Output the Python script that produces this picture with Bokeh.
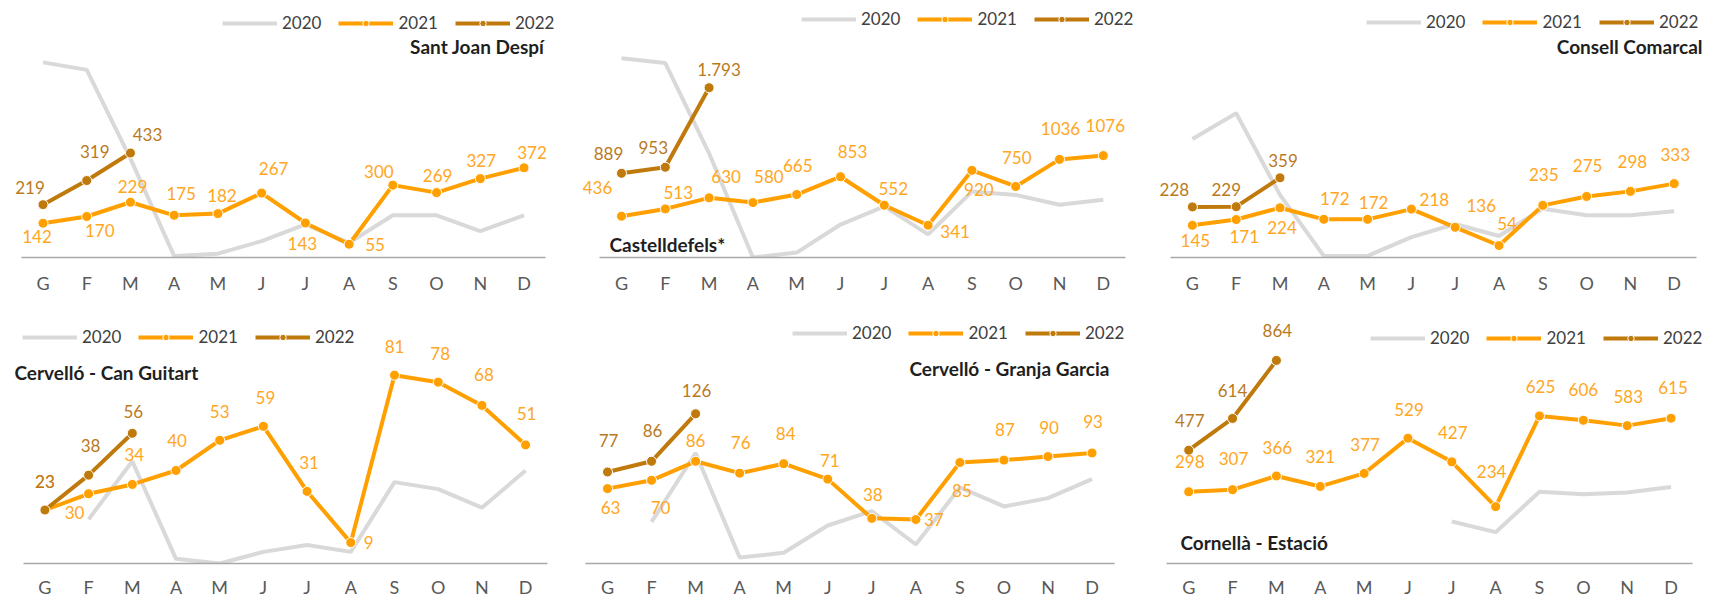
from bokeh.plotting import figure
from bokeh.layouts import column, row
from bokeh.models import Range1d, FixedTicker, Legend, LegendItem, Label, ColumnDataSource
from bokeh.core.properties import value
from bokeh.embed import file_html
from bokeh.resources import INLINE

# ---------------- data ----------------
months = ["G", "F", "M", "A", "M", "J", "J", "A", "S", "O", "N", "D"]
years = ["2020", "2021", "2022"]

titles = ["Sant Joan Despí", "Castelldefels*", "Consell Comarcal",
          "Cervelló - Can Guitart", "Cervelló - Granja Garcia", "Cornellà - Estació"]

sjd_2020 = [809, 778, 410, 6, 16, 68, 137, 61, 175, 175, 109, 175]
sjd_2021 = [142, 170, 229, 175, 182, 267, 143, 55, 300, 269, 327, 372]
sjd_2022 = [219, 319, 433]

cast_2020 = [2105, 2053, 1100, 0, 52, 348, 540, 244, 696, 661, 557, 609]
cast_2021 = [436, 513, 630, 580, 665, 853, 552, 341, 920, 750, 1036, 1076]
cast_2022 = [889, 953, 1793]

cc_2020 = [534, 650, 282, 7, 7, 92, 151, 97, 220, 190, 190, 208]
cc_2021 = [145, 171, 224, 172, 172, 218, 136, 54, 235, 275, 298, 333]
cc_2022 = [228, 229, 359]

cg_2020 = [None, 19, 44, 2, 0, 5, 8, 5, 35, 32, 24, 40]
cg_2021 = [23, 30, 34, 40, 53, 59, 31, 9, 81, 78, 68, 51]
cg_2022 = [23, 38, 56]

gg_2020 = [None, 35, 93, 5, 9, 32, 44, 16, 64, 48, 55, 71]
gg_2021 = [63, 70, 86, 76, 84, 71, 38, 37, 85, 87, 90, 93]
gg_2022 = [77, 86, 126]

ce_2020 = [None, None, None, None, None, None, 170, 124, 298, 287, 295, 319]
ce_2021 = [298, 307, 366, 321, 377, 529, 427, 234, 625, 606, 583, 615]
ce_2022 = [477, 614, 864]

series_2020 = [sjd_2020, cast_2020, cc_2020, cg_2020, gg_2020, ce_2020]
series_2021 = [sjd_2021, cast_2021, cc_2021, cg_2021, gg_2021, ce_2021]
series_2022 = [sjd_2022, cast_2022, cc_2022, cg_2022, gg_2022, ce_2022]

# ---------------- layout / styling (positions, not data) ----------------
off_2021 = [
    [(-6, 13), (13, 14), (2, -16), (7, -22), (4, -18), (12, -25), (-3, 20), (26, 0), (-14, -14), (1, -17), (1, -18), (8, -15)],
    [(-24, -29), (13, -16), (17, -21), (16, -26), (1, -29), (12, -25), (9, -17), (27, 6), (7, 19), (1, -29), (1, -31), (2, -30)],
    [(3, 15), (8, 17), (2, 20), (11, -21), (6, -17), (23, -10), (26, -22), (8, -22), (1, -31), (1, -31), (2, -30), (1, -29)],
    [(0, -29), (-14, 19), (2, -30), (1, -30), (0, -29), (2, -29), (2, -29), (18, 0), (0, -29), (2, -29), (2, -31), (1, -31)],
    [(3, 19), (9, 27), (0, -21), (1, -31), (2, -30), (2, -19), (1, -24), (18, 0), (2, 28), (1, -31), (1, -29), (1, -31)],
    [(1, -30), (1, -31), (1, -29), (0, -30), (1, -29), (1, -29), (1, -29), (-4, -35), (1, -29), (0, -31), (1, -29), (2, -31)],
]
off_2022 = [
    [(-13, -17), (8, -29), (17, -19)],
    [(-13, -20), (-12, -20), (10, -18)],
    [(-18, -17), (-10, -17), (3, -17)],
    [(0, -29), (2, -30), (1, -22)],
    [(1, -31), (1, -31), (1, -23)],
    [(1, -30), (0, -28), (1, -30)],
]

col_w = [570, 572, 563]
row_h = [296, 304]
row_frame_h = [260, 270]
row_standoff = [14, 12]
fig_left = [0, 570, 1142, 0, 570, 1142]
first_x = [42.5, 621, 1191.9, 44.4, 607, 1188.2]
step_x = [43.73, 43.8, 43.8, 43.7, 44.05, 43.85]
y_start = [0, 0, 0, 0, 0, -11]
px_per_unit = [0.244, 0.0958, 0.2245, 2.351, 1.2017, 0.2347]
legend_xy = [(222, 224), (231, 228), (224, 225), (22, 216), (222, 220), (228, 215)]
title_pos = [(544, 211, "right"), (39, 13, "left"), (560, 211, "right"),
             (14, 191, "left"), (539, 195, "right"), (38, 21, "left")]

C2020 = "#D9D9D9"
C2021 = "#FFA000"
C2022 = "#C07A0C"
L2021 = "#FFA623"
L2022 = "#B97A1E"
FONT = "Lato"


def fmt_plain(v):
    return str(v)


def fmt_dot(v):
    return f"{v:,}".replace(",", ".")


def nanify(vals):
    return [float("nan") if v is None else v for v in vals]


figs = []
for i in range(6):
    r, c = divmod(i, 3)
    W, H = col_w[c], row_h[r]
    frame_h = row_frame_h[r]
    xs0 = -(first_x[i] - fig_left[i]) / step_x[i]
    xs1 = xs0 + W / step_x[i]
    ys1 = y_start[i] + frame_h / px_per_unit[i]
    p = figure(width=W, height=H, output_backend="svg", toolbar_location=None,
               x_range=Range1d(xs0, xs1), y_range=Range1d(y_start[i], ys1),
               y_axis_location=None, min_border_left=0, min_border_right=0,
               min_border_top=0, min_border_bottom=H - frame_h)
    p.outline_line_color = None
    p.grid.visible = False
    p.background_fill_color = "white"
    p.border_fill_color = "white"

    xa = p.xaxis[0]
    xa.ticker = FixedTicker(ticks=list(range(len(months))))
    xa.major_label_overrides = {k: m for k, m in enumerate(months)}
    xa.bounds = (-0.5, len(months) - 0.5)
    xa.axis_line_color = "#A8A8A8"
    xa.axis_line_width = 1.3
    xa.major_tick_line_color = None
    xa.minor_tick_line_color = None
    xa.major_tick_out = 0
    xa.major_tick_in = 0
    xa.minor_tick_out = 0
    xa.major_label_text_font = FONT
    xa.major_label_text_font_size = "18px"
    xa.major_label_text_color = "#595959"
    xa.major_label_standoff = row_standoff[r]

    x12 = list(range(len(months)))
    v20 = nanify(series_2020[i])
    v21 = series_2021[i]
    v22 = series_2022[i]
    x22 = list(range(len(v22)))

    r20 = p.line(x12, v20, line_color=C2020, line_width=4)
    r21l = p.line(x12, v21, line_color=C2021, line_width=4)
    r21s = p.scatter(x12, v21, size=10, fill_color=C2021, line_color="white", line_width=1)
    r22l = p.line(x22, v22, line_color=C2022, line_width=4)
    r22s = p.scatter(x22, v22, size=10, fill_color=C2022, line_color="white", line_width=1)

    s21 = ColumnDataSource(dict(x=x12, y=v21, t=[fmt_plain(v) for v in v21],
                                dx=[o[0] for o in off_2021[i]], dy=[o[1] for o in off_2021[i]]))
    s22 = ColumnDataSource(dict(x=x22, y=v22, t=[fmt_dot(v) for v in v22],
                                dx=[o[0] for o in off_2022[i]], dy=[o[1] for o in off_2022[i]]))
    p.text(x="x", y="y", text="t", x_offset="dx", y_offset="dy", source=s21,
           text_color=L2021, text_font=value(FONT), text_font_size=value("17px"),
           text_align="center", text_baseline="middle")
    p.text(x="x", y="y", text="t", x_offset="dx", y_offset="dy", source=s22,
           text_color=L2022, text_font=value(FONT), text_font_size=value("17px"),
           text_align="center", text_baseline="middle")

    leg = Legend(items=[LegendItem(label=years[0], renderers=[r20]),
                        LegendItem(label=years[1], renderers=[r21l, r21s]),
                        LegendItem(label=years[2], renderers=[r22l, r22s])],
                 orientation="horizontal", location=legend_xy[i],
                 glyph_width=55, glyph_height=16, label_standoff=5, spacing=17,
                 padding=0, margin=0, border_line_color=None, background_fill_alpha=0,
                 label_text_font=FONT, label_text_font_size="17px", label_text_color="#404040",
                 label_height=18)
    p.add_layout(leg)

    tx, ty, ta = title_pos[i]
    p.add_layout(Label(x=tx, y=ty, x_units="screen", y_units="screen", text=titles[i],
                       text_font=FONT, text_font_size="19px", text_font_style="bold",
                       text_color="#1F1F1F", text_align=ta, text_baseline="middle"))
    figs.append(p)

layout = column(row(figs[0], figs[1], figs[2]), row(figs[3], figs[4], figs[5]))
open("out.html", "w").write(file_html(layout, INLINE))
